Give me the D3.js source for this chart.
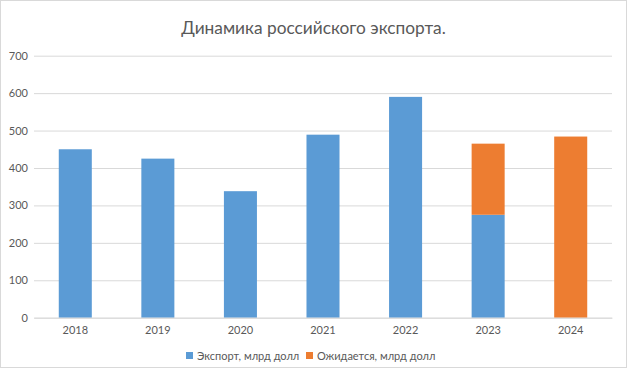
<!DOCTYPE html>
<html><head><meta charset="utf-8">
<script src="https://cdn.jsdelivr.net/npm/d3@7"></script>
<style>body{margin:0;background:#fff;} svg{display:block;font-family:Lato,"Open Sans",sans-serif;}</style>
</head><body><svg id="c" width="627" height="368"></svg>
<script>
const title = "Динамика российского экспорта.";
const categories = ["2018","2019","2020","2021","2022","2023","2024"];
const exportVals = [450, 425, 338, 489, 590, 275, 0];
const expectedVals = [0, 0, 0, 0, 0, 190, 484];
const seriesNames = ["Экспорт, млрд долл", "Ожидается, млрд долл"];
const seriesColors = ["#5b9bd5", "#ed7d31"];
const yTicks = [0,100,200,300,400,500,600,700];

const svg = d3.select("#c");
const W = 627, H = 368;
svg.append("rect").attr("x",0.5).attr("y",0.5).attr("width",W-1).attr("height",H-1)
  .attr("fill","#fff").attr("stroke","#d9d9d9");

const m = {l:34, r:15, t:55.7, b:50.3};
const x = d3.scaleBand().domain(categories).range([m.l, W-m.r]).paddingInner(0.6).paddingOuter(0.3);
const y = d3.scaleLinear().domain([0,700]).range([H-m.b, m.t]);

svg.append("text").attr("x", W/2).attr("y", 34).attr("text-anchor","middle")
  .attr("font-size", 17.3).attr("fill","#595959").text(title);

const gy = svg.append("g").attr("transform",`translate(${m.l},0)`)
  .call(d3.axisLeft(y).tickValues(yTicks).tickSize(-(W-m.l-m.r)).tickPadding(6));
gy.select(".domain").remove();
gy.selectAll("line").attr("stroke","#d9d9d9").attr("stroke-width",1);
gy.selectAll("text").attr("fill","#595959").attr("font-size",11).attr("font-family","Lato,sans-serif");

const data = categories.map((c,i)=>({cat:c, a:exportVals[i], b:expectedVals[i]}));
const stack = d3.stack().keys(["a","b"])(data);
stack.forEach((s,si)=>{
  svg.append("g").attr("fill", seriesColors[si]).selectAll("rect").data(s).join("rect")
    .attr("x", d=>x(d.data.cat)).attr("width", x.bandwidth())
    .attr("y", d=>y(d[1])).attr("height", d=>y(d[0])-y(d[1]));
});

const gx = svg.append("g").attr("transform",`translate(0,${H-m.b})`)
  .call(d3.axisBottom(x).tickSize(0).tickPadding(9));
gx.select(".domain").attr("stroke","#d9d9d9");
gx.selectAll("text").attr("fill","#595959").attr("font-size",11).attr("font-family","Lato,sans-serif");

const legX = [186, 306];
const lg = svg.append("g");
seriesNames.forEach((n,i)=>{
  lg.append("rect").attr("x",legX[i]).attr("y",352).attr("width",7).attr("height",7).attr("fill",seriesColors[i]);
  lg.append("text").attr("x",legX[i]+11).attr("y",360).attr("font-size",11).attr("fill","#595959").text(n);
});
</script></body></html>
